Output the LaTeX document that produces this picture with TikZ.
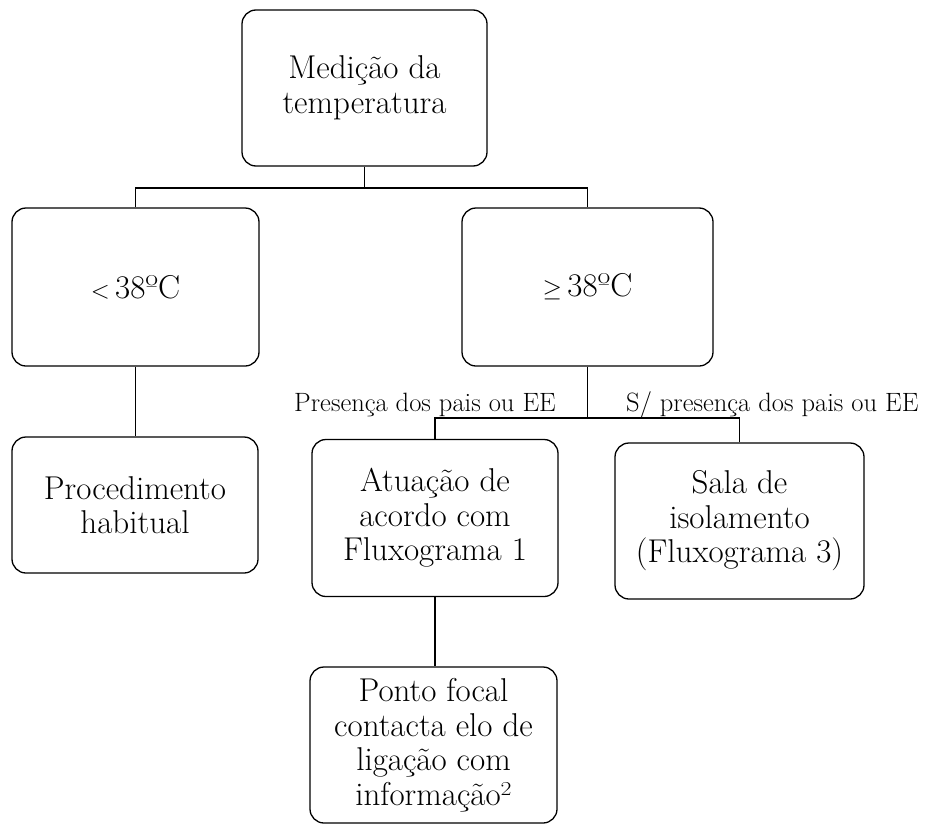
\documentclass[tikz,border=0pt]{standalone}
\usetikzlibrary{positioning}
\begin{document}
\begin{tikzpicture}[x=1pt,y=-1pt,
  box/.style={draw=black,line width=1.3pt,rounded corners=14pt,align=center,
    font=\fontsize{33}{34.5}\selectfont,inner sep=0pt},
  conn/.style={draw=black,line width=1.2pt},
  lbl/.style={font=\fontsize{26.5}{30}\selectfont,inner sep=0pt}]
\useasboundingbox (0,0) rectangle (926,827);
\node[box,minimum width=245pt,minimum height=156pt] (top) at (364.5,88) {Medição da\\temperatura};
\node[box,minimum width=247pt,minimum height=158pt] (lt) at (135.5,287) {$<$\,38ºC};
\node[box,minimum width=251pt,minimum height=158pt] (ge) at (587.5,287) {$\geq$\,38ºC};
\node[box,minimum width=246pt,minimum height=136pt] (proc) at (135,505) {Procedimento\\habitual};
\node[box,minimum width=246pt,minimum height=157pt] (atu) at (435,518) {Atuação de\\acordo com\\Fluxograma 1};
\node[box,minimum width=249pt,minimum height=156pt] (sala) at (739.5,521) {Sala de\\isolamento\\(Fluxograma 3)};
\node[box,minimum width=247pt,minimum height=156pt] (ponto) at (433.5,745) {Ponto focal\\contacta elo de\\ligação com\\informação²};
\coordinate (j1) at (364.5,188);
\coordinate (j2) at (587.5,418);
\draw[conn] (top.south) -- (j1);
\draw[conn] (lt.north) |- (j1) -| (ge.north);
\draw[conn] (lt.south) -- (lt.south |- proc.north);
\draw[conn] (ge.south) -- (j2);
\draw[conn] (atu.north) |- (j2) -| (sala.north);
\draw[conn] (atu.south) -- (atu.south |- ponto.north);
\node[lbl,anchor=base east] (l1) at (556,411) {Presença dos pais ou EE};
\node[lbl,anchor=base west] (l2) at (626,411) {S/ presença dos pais ou EE};
\end{tikzpicture}
\end{document}
